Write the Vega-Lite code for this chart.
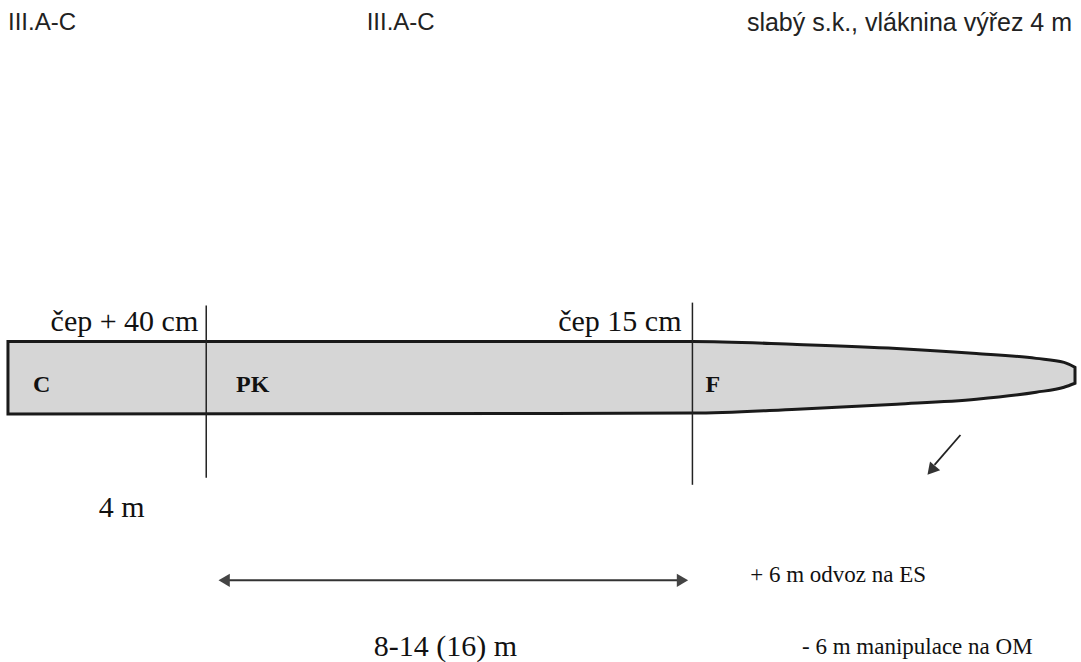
{
  "$schema": "https://vega.github.io/schema/vega-lite/v6.json",
  "width": 1081,
  "height": 662,
  "autosize": {"type": "fit", "contains": "padding"},
  "padding": 0,
  "background": "white",
  "config": {"view": {"stroke": null}},
  "encoding": {
    "x": {"field": "x", "type": "quantitative", "scale": {"domain": [0, 1081], "nice": false, "zero": false}, "axis": null},
    "y": {"field": "y", "type": "quantitative", "scale": {"domain": [0, 662], "nice": false, "zero": false, "reverse": true}, "axis": null}
  },
  "layer": [
    {
      "data": {"values": [
        {"x": 8, "y": 343, "bot": 416},
        {"x": 695, "y": 343, "bot": 415},
        {"x": 800, "y": 346, "bot": 411},
        {"x": 900, "y": 350, "bot": 406},
        {"x": 980, "y": 355, "bot": 401},
        {"x": 1040, "y": 360, "bot": 394},
        {"x": 1068, "y": 364, "bot": 389},
        {"x": 1079, "y": 369, "bot": 385}
      ]},
      "mark": {"type": "area", "interpolate": "monotone", "fill": "#d6d6d6", "stroke": "#1a1a1a", "strokeWidth": 3},
      "encoding": {"y2": {"field": "bot"}}
    },
    {
      "data": {"values": [
        {"x": 207, "y": 307, "yEnd": 480},
        {"x": 695, "y": 304, "yEnd": 487}
      ]},
      "mark": {"type": "rule", "color": "#222222", "strokeWidth": 1.5},
      "encoding": {"y2": {"field": "yEnd"}}
    },
    {
      "data": {"values": [{"x": 222, "xEnd": 688, "y": 583}]},
      "mark": {"type": "rule", "color": "#333333", "strokeWidth": 2},
      "encoding": {"x2": {"field": "xEnd"}}
    },
    {
      "data": {"values": [{"x": 225, "y": 583}]},
      "mark": {"type": "point", "shape": "triangle-left", "filled": true, "color": "#444444", "size": 170, "opacity": 1}
    },
    {
      "data": {"values": [{"x": 685, "y": 583}]},
      "mark": {"type": "point", "shape": "triangle-right", "filled": true, "color": "#444444", "size": 170, "opacity": 1}
    },
    {
      "data": {"values": [{"x": 964, "y": 437, "xEnd": 938, "yEnd": 467}]},
      "mark": {"type": "rule", "color": "#222222", "strokeWidth": 1.8},
      "encoding": {"x2": {"field": "xEnd"}, "y2": {"field": "yEnd"}}
    },
    {
      "data": {"values": [{"x": 936, "y": 471}]},
      "mark": {"type": "point", "shape": "triangle", "angle": 221, "filled": true, "color": "#333333", "size": 180, "opacity": 1}
    },
    {
      "data": {"values": [
        {"label": "III.A-C", "x": 8, "y": 23},
        {"label": "III.A-C", "x": 368, "y": 23}
      ]},
      "mark": {"type": "text", "align": "left", "baseline": "middle", "font": "Liberation Sans", "fontSize": 24, "color": "#222222"},
      "encoding": {"text": {"field": "label"}}
    },
    {
      "data": {"values": [{"label": "slabý s.k., vláknina výřez 4 m", "x": 1076, "y": 23}]},
      "mark": {"type": "text", "align": "right", "baseline": "middle", "font": "Liberation Sans", "fontSize": 25, "color": "#222222"},
      "encoding": {"text": {"field": "label"}}
    },
    {
      "data": {"values": [
        {"label": "čep + 40 cm", "x": 199, "y": 323},
        {"label": "čep 15 cm", "x": 684, "y": 323}
      ]},
      "mark": {"type": "text", "align": "right", "baseline": "middle", "font": "Liberation Serif", "fontSize": 30, "color": "#111111"},
      "encoding": {"text": {"field": "label"}}
    },
    {
      "data": {"values": [
        {"label": "C", "x": 33, "y": 387},
        {"label": "PK", "x": 237, "y": 387},
        {"label": "F", "x": 708, "y": 387}
      ]},
      "mark": {"type": "text", "align": "left", "baseline": "middle", "font": "Liberation Serif", "fontSize": 24, "fontWeight": "bold", "color": "#111111"},
      "encoding": {"text": {"field": "label"}}
    },
    {
      "data": {"values": [
        {"label": "4 m", "x": 122, "y": 510},
        {"label": "8-14 (16) m", "x": 447, "y": 650}
      ]},
      "mark": {"type": "text", "align": "center", "baseline": "middle", "font": "Liberation Serif", "fontSize": 30, "color": "#111111"},
      "encoding": {"text": {"field": "label"}}
    },
    {
      "data": {"values": [
        {"label": "+ 6 m odvoz na ES", "x": 753, "y": 578},
        {"label": "- 6 m manipulace na OM", "x": 805, "y": 650}
      ]},
      "mark": {"type": "text", "align": "left", "baseline": "middle", "font": "Liberation Serif", "fontSize": 23, "color": "#111111"},
      "encoding": {"text": {"field": "label"}}
    }
  ]
}
